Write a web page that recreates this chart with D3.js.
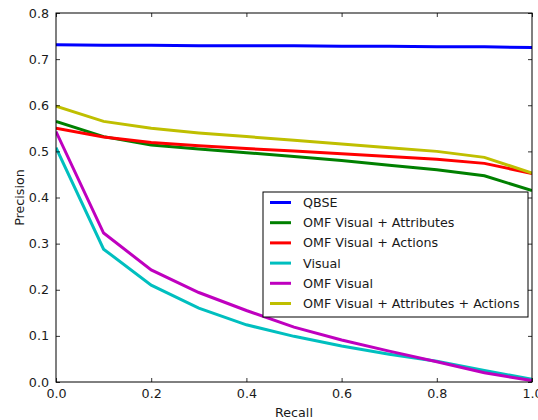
<!DOCTYPE html>
<html>
<head>
<meta charset="utf-8">
<script src="https://cdn.jsdelivr.net/npm/d3@7"></script>
<style>
  body { margin: 0; background: #fff; }
  text { font-family: "DejaVu Sans", sans-serif; fill: #1a1a1a; }
</style>
</head>
<body>
<svg id="chart" width="538" height="420"></svg>
<script>
const recall = [0, 0.1, 0.2, 0.3, 0.4, 0.5, 0.6, 0.7, 0.8, 0.9, 1.0];

const qbse = [0.731, 0.730, 0.730, 0.729, 0.729, 0.729, 0.728, 0.728, 0.727, 0.727, 0.725];
const omfAttributes = [0.565, 0.532, 0.514, 0.505, 0.497, 0.489, 0.480, 0.470, 0.460, 0.447, 0.415];
const omfActions = [0.550, 0.531, 0.519, 0.512, 0.506, 0.501, 0.495, 0.489, 0.483, 0.474, 0.452];
const visual = [0.508, 0.288, 0.210, 0.160, 0.124, 0.099, 0.078, 0.060, 0.045, 0.025, 0.006];
const omfVisual = [0.543, 0.323, 0.243, 0.194, 0.155, 0.119, 0.091, 0.067, 0.044, 0.020, 0.003];
const omfAll = [0.598, 0.565, 0.550, 0.540, 0.532, 0.524, 0.516, 0.508, 0.500, 0.487, 0.453];

const seriesNames = [
  "QBSE",
  "OMF Visual + Attributes",
  "OMF Visual + Actions",
  "Visual",
  "OMF Visual",
  "OMF Visual + Attributes + Actions",
];
const seriesValues = [qbse, omfAttributes, omfActions, visual, omfVisual, omfAll];
const seriesColors = ["#0000ff", "#008000", "#ff0000", "#00bfbf", "#bf00bf", "#bfbf00"];

const xTicks = [0, 0.2, 0.4, 0.6, 0.8, 1.0];
const yTicks = [0, 0.1, 0.2, 0.3, 0.4, 0.5, 0.6, 0.7, 0.8];

const fontSize = 12.7;

const svg = d3.select("#chart");
const margin = { left: 56, right: 6, top: 13, bottom: 38 };
const width = 538 - margin.left - margin.right;
const height = 420 - margin.top - margin.bottom;

const x = d3.scaleLinear().domain([0, 1]).range([0, width]);
const y = d3.scaleLinear().domain([0, 0.8]).range([height, 0]);

const g = svg.append("g").attr("transform", `translate(${margin.left},${margin.top})`);

// lines first, frame drawn over them
const line = d3.line()
  .x((d, i) => x(recall[i]))
  .y((d) => y(d));

g.append("defs").append("clipPath").attr("id", "clip")
  .append("rect").attr("width", width).attr("height", height);

const plot = g.append("g").attr("clip-path", "url(#clip)");
seriesValues.forEach((vals, i) => {
  plot.append("path")
    .attr("d", line(vals))
    .attr("fill", "none")
    .attr("stroke", seriesColors[i])
    .attr("stroke-width", 3);
});

// axes with inward ticks (bottom/left labelled, top/right just ticks)
const fmt = d3.format(".1f");
const styleAxis = (sel) => {
  sel.select(".domain").remove();
  sel.selectAll(".tick line").attr("stroke", "#000").attr("stroke-width", 0.8);
  sel.selectAll(".tick text").attr("font-size", fontSize).attr("fill", "#1a1a1a");
};

g.append("g")
  .attr("transform", `translate(0,${height})`)
  .call(d3.axisBottom(x).tickValues(xTicks).tickFormat(fmt).tickSizeInner(-4).tickPadding(7))
  .call(styleAxis);
g.append("g")
  .call(d3.axisTop(x).tickValues(xTicks).tickFormat("").tickSizeInner(-4))
  .call(styleAxis);
g.append("g")
  .call(d3.axisLeft(y).tickValues(yTicks).tickFormat(fmt).tickSizeInner(-4).tickPadding(7))
  .call(styleAxis);
g.append("g")
  .attr("transform", `translate(${width},0)`)
  .call(d3.axisRight(y).tickValues(yTicks).tickFormat("").tickSizeInner(-4))
  .call(styleAxis);

g.append("rect")
  .attr("width", width).attr("height", height)
  .attr("fill", "none").attr("stroke", "#000").attr("stroke-width", 1);

// axis labels
g.append("text")
  .attr("x", width / 2).attr("y", height + 35)
  .attr("text-anchor", "middle").attr("font-size", fontSize)
  .text("Recall");
g.append("text")
  .attr("transform", `translate(-32,${height / 2}) rotate(-90)`)
  .attr("text-anchor", "middle").attr("font-size", fontSize)
  .text("Precision");

// legend
const legend = g.append("g").attr("transform", `translate(${263 - margin.left},${192 - margin.top})`);
legend.append("rect")
  .attr("width", 265).attr("height", 125)
  .attr("fill", "#fff").attr("stroke", "#000").attr("stroke-width", 1);
seriesNames.forEach((name, i) => {
  const row = legend.append("g").attr("transform", `translate(0,${10.5 + i * 20.2})`);
  row.append("line")
    .attr("x1", 7).attr("x2", 28)
    .attr("stroke", seriesColors[i]).attr("stroke-width", 3);
  row.append("text")
    .attr("x", 40).attr("dy", "0.35em").attr("font-size", fontSize)
    .text(name);
});
</script>
</body>
</html>
